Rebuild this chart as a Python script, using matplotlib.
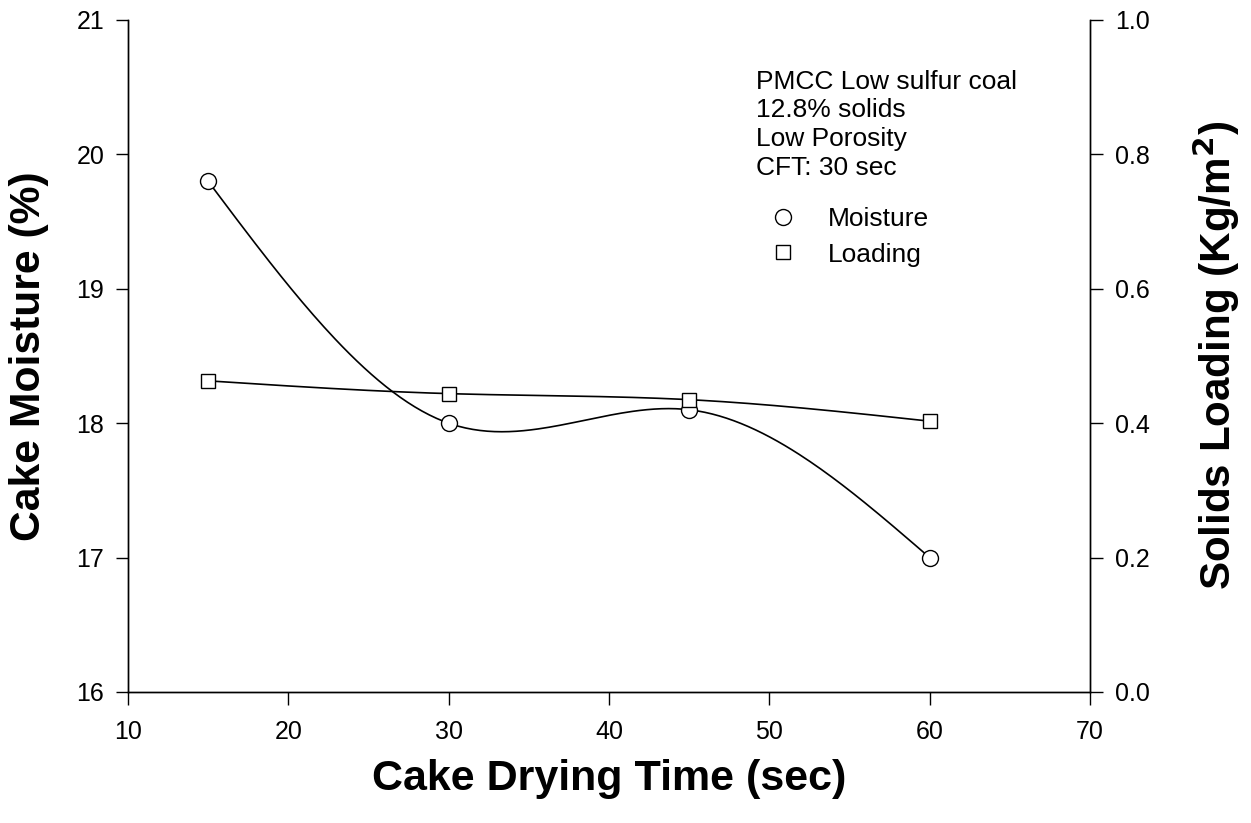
import numpy as np
import matplotlib
matplotlib.use("Agg")
import matplotlib.pyplot as plt

plt.rcParams["font.family"] = ["Liberation Sans", "DejaVu Sans"]

# data
drying_time = [15, 30, 45, 60]
moisture = [19.8, 18.0, 18.1, 17.0]
loading = [0.463, 0.444, 0.435, 0.403]

x_ticks = [10, 20, 30, 40, 50, 60, 70]
left_ticks = [16, 17, 18, 19, 20, 21]
right_ticks = [0.0, 0.2, 0.4, 0.6, 0.8, 1.0]

note = "PMCC Low sulfur coal\n12.8% solids\nLow Porosity\nCFT: 30 sec"


def natural_spline(x, y, n=200):
    # natural cubic spline through the points (smooth line like SigmaPlot)
    x = np.asarray(x, float)
    y = np.asarray(y, float)
    k = len(x)
    h = np.diff(x)
    A = np.zeros((k, k))
    b = np.zeros(k)
    A[0, 0] = A[-1, -1] = 1
    for i in range(1, k - 1):
        A[i, i - 1] = h[i - 1]
        A[i, i] = 2 * (h[i - 1] + h[i])
        A[i, i + 1] = h[i]
        b[i] = 6 * ((y[i + 1] - y[i]) / h[i] - (y[i] - y[i - 1]) / h[i - 1])
    m = np.linalg.solve(A, b)
    xs = np.linspace(x[0], x[-1], n)
    idx = np.clip(np.searchsorted(x, xs) - 1, 0, k - 2)
    x0, x1 = x[idx], x[idx + 1]
    hh = x1 - x0
    t0 = x1 - xs
    t1 = xs - x0
    ys = (m[idx] * t0**3 / (6 * hh) + m[idx + 1] * t1**3 / (6 * hh)
          + (y[idx] / hh - m[idx] * hh / 6) * t0
          + (y[idx + 1] / hh - m[idx + 1] * hh / 6) * t1)
    return xs, ys


fig = plt.figure(figsize=(12.51, 8.23), dpi=100)
ax = fig.add_axes([0.1023, 0.1592, 0.7690, 0.8165])
ax2 = ax.twinx()

xs, ys = natural_spline(drying_time, moisture)
ax.plot(xs, ys, color="black", linewidth=1.2, zorder=2)
ax.plot(drying_time, moisture, linestyle="none", marker="o", markersize=11.5,
        markerfacecolor="white", markeredgecolor="black", markeredgewidth=1.0,
        label="Moisture", zorder=3)

xs2, ys2 = natural_spline(drying_time, loading)
ax2.plot(xs2, ys2, color="black", linewidth=1.2, zorder=2)
ax2.plot(drying_time, loading, linestyle="none", marker="s", markersize=10,
         markerfacecolor="white", markeredgecolor="black", markeredgewidth=1.0,
         label="Loading", zorder=3)

ax.set_xlim(10, 70)
ax.set_ylim(16, 21)
ax2.set_ylim(0, 1.0)
ax.set_xticks(x_ticks)
ax.set_yticks(left_ticks)
ax2.set_yticks(right_ticks)
ax2.set_yticklabels([f"{v:.1f}" for v in right_ticks])

for a in (ax, ax2):
    a.tick_params(direction="out", length=9, width=1, labelsize=18)
    for s in a.spines.values():
        s.set_linewidth(1.0)
ax.spines["top"].set_visible(False)
ax2.spines["top"].set_visible(False)
ax.tick_params(axis="x", pad=11)
ax.tick_params(axis="y", pad=8)
ax2.tick_params(axis="y", pad=9)

ax.set_xlabel("Cake Drying Time (sec)", fontsize=31, fontweight="bold", labelpad=11)
ax.set_ylabel("Cake Moisture (%)", fontsize=30.7, fontweight="bold", labelpad=20)
ax2.set_ylabel("Solids Loading (Kg/m$^\\mathbf{2}$)", fontsize=30.3, fontweight="bold", labelpad=29)

ax.text(0.653, 0.926, note, transform=ax.transAxes, fontsize=19,
        va="top", ha="left", linespacing=1.25)

h1, l1 = ax.get_legend_handles_labels()
h2, l2 = ax2.get_legend_handles_labels()
ax2.legend(h1 + h2, l1 + l2, loc="upper left", bbox_to_anchor=(0.664, 0.721),
           frameon=False, fontsize=19, handletextpad=1.1, labelspacing=0.42,
           borderaxespad=0, borderpad=0, handlelength=1.2)

fig.savefig("out.png", dpi=100)
